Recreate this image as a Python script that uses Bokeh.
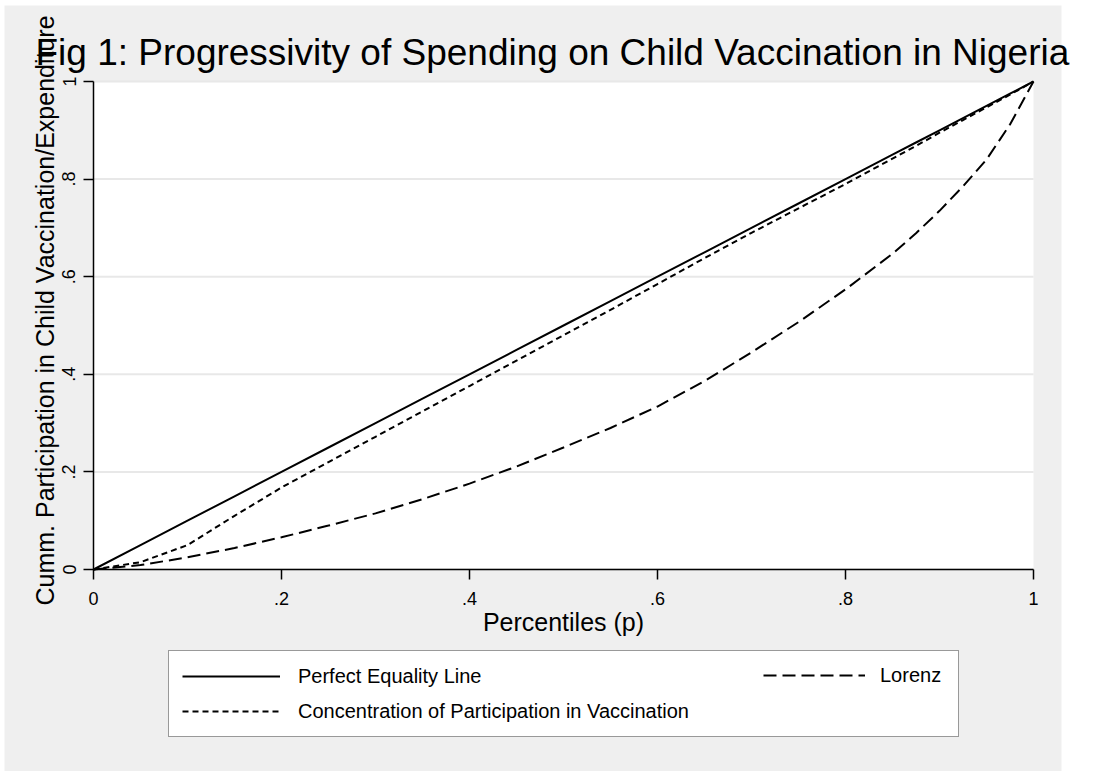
import math
from bokeh.plotting import figure
from bokeh.models import FixedTicker, Legend, LegendItem, Range1d, BoxAnnotation, Label
from bokeh.embed import file_html
from bokeh.resources import INLINE

# ---- data ----
percentiles = [0, .05, .1, .15, .2, .25, .3, .35, .4, .45, .5, .55, .6, .65, .7, .75, .8, .85, .875, .9, .925, .95, .975, 1]
perfect_equality = [0, .05, .1, .15, .2, .25, .3, .35, .4, .45, .5, .55, .6, .65, .7, .75, .8, .85, .875, .9, .925, .95, .975, 1]
concentration = [0, .015, .05, .11, .168, .22, .272, .324, .376, .428, .48, .532, .585, .638, .69, .74, .79, .842, .868, .895, .921, .947, .973, 1]
lorenz = [0, .009, .025, .044, .066, .09, .115, .144, .176, .211, .25, .29, .334, .386, .445, .507, .574, .647, .689, .735, .785, .84, .912, 1]

x_tick_values = [0, .2, .4, .6, .8, 1]
x_tick_labels = ["0", ".2", ".4", ".6", ".8", "1"]
y_tick_values = [0, .2, .4, .6, .8, 1]
y_tick_labels = ["0", ".2", ".4", ".6", ".8", "1"]

title_text = "Fig 1: Progressivity of Spending on Child Vaccination in Nigeria"
x_title = "Percentiles (p)"
y_title = "Cumm. Participation in Child Vaccination/Expenditure"
legend_labels = ["Perfect Equality Line", "Lorenz", "Concentration of Participation in Vaccination"]

# ---- layout (pixels); the frame fills the whole canvas ----
FONT = "Liberation Sans"
GRAY = "#efefef"
W, H = 1093, 771
X0_PX, X1_PX = 93, 1033                 # where x=0 and x=1 fall
Y0_PX, Y1_PX = 569, 81                  # where y=0 and y=1 fall (from top)
xs = (X1_PX - X0_PX)
ys = (Y0_PX - Y1_PX)


def dx(px):  # canvas x pixel -> data x
    return (px - X0_PX) / xs


def dy(py):  # canvas y pixel (from top) -> data y
    return (Y0_PX - py) / ys


p = figure(width=W, height=H, x_range=Range1d(dx(0), dx(W)), y_range=Range1d(dy(H), dy(0)),
           output_backend="svg", toolbar_location=None,
           min_border_left=0, min_border_right=0, min_border_top=0, min_border_bottom=0,
           border_fill_color="white", background_fill_color="white",
           outline_line_color=None)
p.title.visible = False

# gray graph region, then the white plot region (0..1 x 0..1)
p.add_layout(BoxAnnotation(left=dx(4), right=dx(1061), bottom=dy(H), top=dy(5),
                           fill_color=GRAY, fill_alpha=1, line_color=None, level="image"))
p.add_layout(BoxAnnotation(left=0, right=1, bottom=0, top=1, fill_color="white",
                           fill_alpha=1, line_color=None, level="image"))

# axes (drawn at x=0 / y=0)
for ax, vals, labs in [(p.xaxis, x_tick_values, x_tick_labels), (p.yaxis, y_tick_values, y_tick_labels)]:
    ax.ticker = FixedTicker(ticks=vals)
    ax.major_label_overrides = dict(zip(vals, labs))
    ax.bounds = (0, 1)
    ax.fixed_location = 0
    ax.axis_line_color = "black"
    ax.axis_line_width = 1.5
    ax.major_tick_line_color = "black"
    ax.major_tick_line_width = 1.5
    ax.major_tick_out = 10
    ax.major_tick_in = 0
    ax.minor_tick_line_color = None
    ax.major_label_text_font = FONT
    ax.major_label_text_font_size = "18px"
    ax.major_label_text_color = "black"
    ax.axis_label_text_font = FONT
    ax.axis_label_text_font_size = "25px"
    ax.axis_label_text_font_style = "normal"
    ax.axis_label_text_color = "black"

p.xaxis.axis_label = x_title
p.xaxis.major_label_standoff = 12
p.xaxis.axis_label_standoff = 0
p.yaxis.major_label_orientation = "vertical"
p.yaxis.major_label_standoff = 8

# titles
p.add_layout(Label(x=35, y=H - 52, x_units="screen", y_units="screen", text=title_text,
                   text_font=FONT, text_font_size="37px", text_color="black",
                   text_align="left", text_baseline="alphabetic"))
p.add_layout(Label(x=44, y=H - 605, x_units="screen", y_units="screen", text=y_title,
                   angle=math.pi / 2, text_font=FONT, text_font_size="25px", text_color="black",
                   text_align="left", text_baseline="alphabetic"))

# horizontal grid lines at the y ticks, across the plot region only
p.xgrid.visible = False
p.ygrid.visible = False
p.segment(x0=0, y0=y_tick_values, x1=1, y1=y_tick_values,
          line_color="#e8e8e8", line_width=2, level="underlay")

# lines
r_perf = p.line(percentiles, perfect_equality, line_color="black", line_width=2)
r_lor = p.line(percentiles, lorenz, line_color="black", line_width=2, line_dash="13 6")
r_conc = p.line(percentiles, concentration, line_color="black", line_width=2, line_dash="6 4")

common = dict(label_text_font=FONT, label_text_font_size="20px", label_text_color="black",
              glyph_height=24, label_height=24, margin=0)

legA = Legend(items=[LegendItem(label=legend_labels[0], renderers=[r_perf]),
                     LegendItem(label=legend_labels[2], renderers=[r_conc])],
              location=(168, H - 737), orientation="vertical",
              glyph_width=98, label_standoff=18, label_width=647,
              padding=13, spacing=11,
              border_line_color="#333333", border_line_width=1,
              background_fill_color="white", background_fill_alpha=1, **common)
legB = Legend(items=[LegendItem(label=legend_labels[1], renderers=[r_lor])],
              location=(763, H - 687), orientation="vertical",
              glyph_width=102, label_standoff=15, padding=0, spacing=0,
              border_line_color=None, background_fill_alpha=0, **common)
p.add_layout(legA)
p.add_layout(legB)

open("out.html", "w").write(file_html(p, INLINE))
